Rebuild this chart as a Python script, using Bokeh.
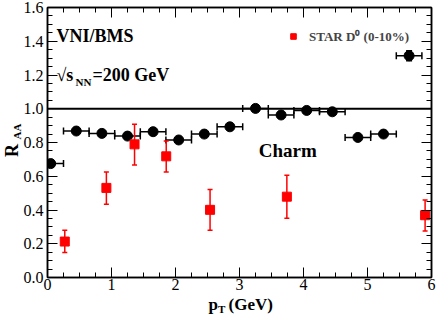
from math import pi
from bokeh.plotting import figure
from bokeh.layouts import row, column
from bokeh.models import (ColumnDataSource, Whisker, TeeHead, Span, Label, LinearAxis,
                          Legend, LegendItem, SingleIntervalTicker, NumeralTickFormatter,
                          Range1d, CustomJSTickFormatter)
from bokeh.embed import file_html
from bokeh.resources import INLINE

# ---- data -------------------------------------------------------------
# VNI/BMS charm RAA (black circles, horizontal bin bars)
charm_pt = [0.05, 0.45, 0.85, 1.25, 1.65, 2.05, 2.45, 2.85, 3.25, 3.65, 4.05, 4.45, 4.85, 5.25, 5.65]
charm_pt_lo = [0.0, 0.25, 0.65, 1.05, 1.45, 1.85, 2.25, 2.65, 3.05, 3.45, 3.85, 4.25, 4.65, 5.05, 5.45]
charm_pt_hi = [0.25, 0.65, 1.05, 1.45, 1.85, 2.25, 2.65, 3.05, 3.45, 3.85, 4.25, 4.65, 5.05, 5.45, 5.85]
charm_raa = [0.675, 0.868, 0.854, 0.838, 0.864, 0.815, 0.850, 0.893, 1.002, 0.963, 0.990, 0.982, 0.830, 0.850, 1.314]
charm_raa_lo = [0.675, 0.868, 0.854, 0.838, 0.864, 0.815, 0.850, 0.893, 1.002, 0.963, 0.990, 0.982, 0.830, 0.850, 1.284]
charm_raa_hi = [0.675, 0.868, 0.854, 0.838, 0.864, 0.815, 0.850, 0.893, 1.002, 0.963, 0.990, 0.982, 0.830, 0.850, 1.344]

# STAR D0 (0-10%) (red squares, vertical error bars)
star_pt = [0.27, 0.92, 1.36, 1.855, 2.54, 3.74, 5.9]
star_raa = [0.213, 0.531, 0.789, 0.718, 0.401, 0.479, 0.369]
star_raa_lo = [0.148, 0.434, 0.667, 0.625, 0.280, 0.351, 0.275]
star_raa_hi = [0.280, 0.625, 0.908, 0.809, 0.521, 0.606, 0.460]

ref_level = 1.0
x_range = (0, 6)
y_range = (0, 1.6)

FONT = "Liberation Serif"

charm_src = ColumnDataSource(dict(x=charm_pt, xlo=charm_pt_lo, xhi=charm_pt_hi,
                                  y=charm_raa, ylo=charm_raa_lo, yhi=charm_raa_hi))
star_src = ColumnDataSource(dict(x=star_pt, y=star_raa, lo=star_raa_lo, hi=star_raa_hi))

# ---- main plot ----------------------------------------------------------
p = figure(width=416, height=294, x_range=Range1d(*x_range), y_range=Range1d(*y_range),
           output_backend="svg", toolbar_location=None,
           min_border_left=26, min_border_right=5, min_border_top=7, min_border_bottom=17,
           background_fill_color="white", border_fill_alpha=0)
p.xgrid.visible = False
p.ygrid.visible = False
p.outline_line_color = "black"
p.outline_line_width = 1.5

# mirror axes on top / right (ticks only)
p.add_layout(LinearAxis(), "above")
p.add_layout(LinearAxis(), "right")

for ax in p.xaxis:
    ax.ticker = SingleIntervalTicker(interval=1, num_minor_ticks=4)
for ax in p.yaxis:
    ax.ticker = SingleIntervalTicker(interval=0.2, num_minor_ticks=4)
    ax.formatter = NumeralTickFormatter(format="0.0")

for ax in list(p.xaxis) + list(p.yaxis):
    ax.axis_line_color = "black"
    ax.axis_line_width = 1.5
    ax.major_tick_in = 10
    ax.major_tick_out = 0
    ax.minor_tick_in = 5
    ax.minor_tick_out = 0
    ax.major_tick_line_color = "black"
    ax.minor_tick_line_color = "black"
    ax.major_tick_line_width = 1
    ax.minor_tick_line_width = 1
    ax.major_label_text_font = FONT
    ax.major_label_text_font_size = "16px"
    ax.major_label_text_color = "black"

for ax in p.above + p.right:
    if isinstance(ax, LinearAxis):
        ax.formatter = CustomJSTickFormatter(code="return ''")
        ax.major_label_text_font_size = "1px"
        ax.major_label_standoff = 0
for ax in p.left:
    if isinstance(ax, LinearAxis):
        ax.major_label_standoff = 4
for ax in p.below:
    if isinstance(ax, LinearAxis):
        ax.major_label_standoff = 1

# horizontal reference line
p.add_layout(Span(location=ref_level, dimension="width", line_color="black", line_width=2))

# error bars
p.add_layout(Whisker(source=charm_src, base="y", lower="xlo", upper="xhi", dimension="width",
                     line_color="black", line_width=1.5,
                     lower_head=TeeHead(size=7, line_color="black", line_width=1.5),
                     upper_head=TeeHead(size=7, line_color="black", line_width=1.5)))
p.add_layout(Whisker(source=charm_src, base="x", lower="ylo", upper="yhi", dimension="height",
                     line_color="black", line_width=1.5,
                     lower_head=TeeHead(size=6, line_color="black", line_width=1.5),
                     upper_head=TeeHead(size=6, line_color="black", line_width=1.5)))
p.add_layout(Whisker(source=star_src, base="x", lower="lo", upper="hi", dimension="height",
                     line_color="red", line_width=1.5,
                     lower_head=TeeHead(size=5, line_color="red", line_width=1.5),
                     upper_head=TeeHead(size=5, line_color="red", line_width=1.5)))

p.scatter("x", "y", source=charm_src, marker="circle", size=10, color="black")
star_r = p.scatter("x", "y", source=star_src, marker="square", size=9, color="red")

legend = Legend(items=[LegendItem(label="STAR D\u2070 (0-10%)", renderers=[star_r])],
                location=(239, 232), padding=0, margin=0, spacing=0,
                glyph_width=14, glyph_height=14, label_height=14, label_standoff=9,
                label_text_font=FONT, label_text_font_style="bold", label_text_font_size="13px",
                background_fill_alpha=0, border_line_alpha=0)
p.add_layout(legend)


def lab(fig, text, x, y, size, units="data", angle=0, xo=0, yo=0,
        align="left", baseline="alphabetic"):
    fig.add_layout(Label(text=text, x=x, y=y, x_units=units, y_units=units, angle=angle,
                         x_offset=xo, y_offset=yo,
                         text_font=FONT, text_font_size=size, text_font_style="bold",
                         text_color="black", text_align=align, text_baseline=baseline))


# in-plot texts
lab(p, "VNI/BMS", 0.14, 1.43, "18px")
lab(p, "\u221as", 0.14, 1.20, "18px")
lab(p, "NN", 0.14, 1.20, "11px", xo=19, yo=-7)
lab(p, "=200 GeV", 0.14, 1.20, "18px", xo=36)
lab(p, "Charm", 3.30, 0.75, "19px")


# ---- strips holding the axis titles -----------------------------------------
def strip(w, h):
    f = figure(width=w, height=h, x_range=Range1d(0, 1), y_range=Range1d(0, 1),
               output_backend="svg", toolbar_location=None, min_border=0,
               x_axis_location=None, y_axis_location=None,
               background_fill_alpha=0, border_fill_alpha=0)
    f.outline_line_color = None
    f.grid.visible = False
    return f


left = strip(24, 294)
left.margin = (0, -4, 0, 0)
lab(left, "R", 11, 127, "18px", units="screen", angle=pi / 2, align="center", baseline="middle")
lab(left, "AA", 16, 146, "11px", units="screen", angle=pi / 2, align="center", baseline="middle")

bottom = strip(436, 33)
bottom.margin = (-12, 0, 0, 0)
lab(bottom, "p", 208, 11, "17px", units="screen")
lab(bottom, "T", 217.5, 7, "11px", units="screen")
lab(bottom, "(GeV)", 228, 11, "17px", units="screen")

layout = column(row(left, p, spacing=0), bottom, spacing=0)

open("out.html", "w").write(file_html(layout, INLINE))
